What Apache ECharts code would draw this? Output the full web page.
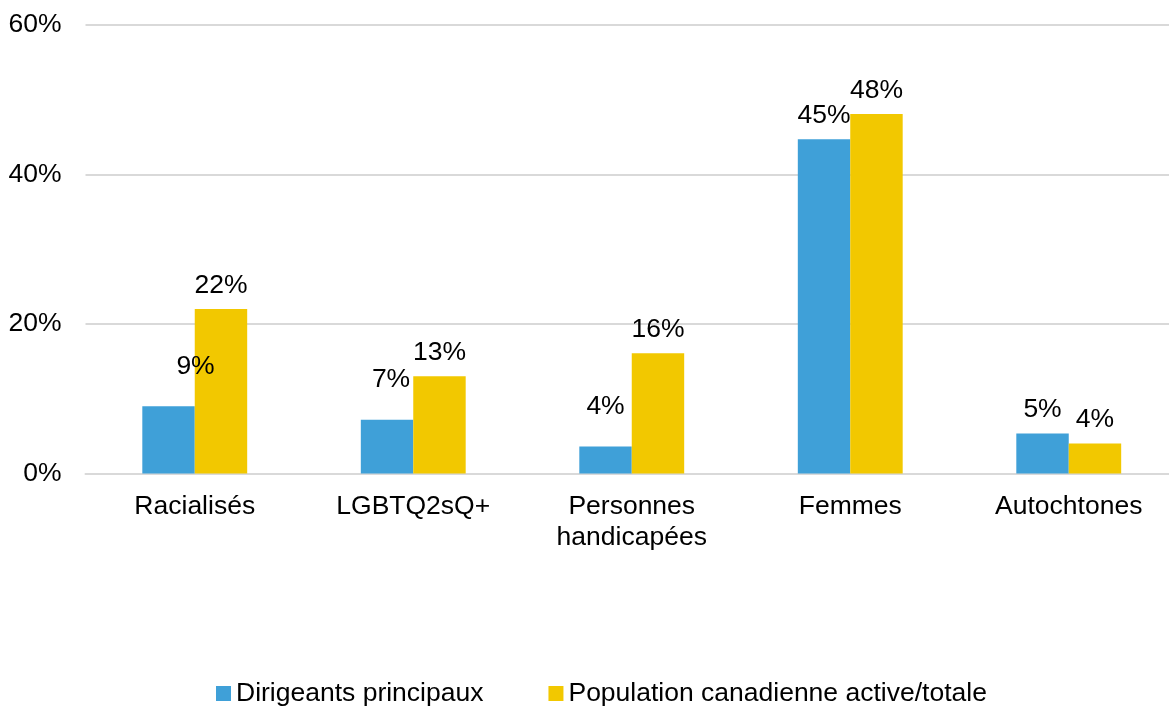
<!DOCTYPE html>
<html>
<head>
<meta charset="utf-8">
<script src="https://cdn.jsdelivr.net/npm/echarts@6/dist/echarts.min.js"></script>
<style>
html,body{margin:0;padding:0;background:#fff;}
#chart{width:1169px;height:706px;}
</style>
</head>
<body>
<div id="chart"></div>
<script>
const categories = ["Racialisés", "LGBTQ2sQ+", "Personnes\nhandicapées", "Femmes", "Autochtones"];
const seriesNames = ["Dirigeants principaux", "Population canadienne active/totale"];
const dirigeants = [9.0, 7.2, 3.6, 44.7, 5.35];
const population = [22.0, 13.0, 16.1, 48.1, 4.0];
const yTicks = [0, 20, 40, 60];

const FONT = "Liberation Sans, Arial, sans-serif";
const TXT = "#000000";
// Manual label nudges (Excel-style label placement) for the first series
const dirLabelNudge = [[27, -16], [4, -16], [0, -16], [0, 0], [0, 0]];

const labelBase = {
  show: true,
  position: "top",
  distance: 10,
  fontFamily: FONT,
  fontSize: 26.5,
  color: TXT,
  formatter: p => Math.round(p.value) + "%"
};

const chart = echarts.init(document.getElementById("chart"), null, {renderer: "canvas"});
chart.setOption({
  animation: false,
  backgroundColor: "#ffffff",
  grid: {left: 85.5, width: 1092.5, top: 25, height: 448.5, containLabel: false, outerBoundsMode: "none"},
  legend: {
    data: seriesNames,
    left: 216,
    top: 680,
    padding: 0,
    icon: "rect",
    itemWidth: 15,
    itemHeight: 15,
    itemGap: 65,
    textStyle: {fontFamily: FONT, fontSize: 26.5, color: TXT}
  },
  xAxis: {
    type: "category",
    data: categories,
    axisLine: {show: true, lineStyle: {color: "#d9d9d9", width: 2}},
    axisTick: {show: false},
    axisLabel: {fontFamily: FONT, fontSize: 26.5, color: TXT, margin: 18, lineHeight: 31, interval: 0}
  },
  yAxis: {
    type: "value",
    min: yTicks[0],
    max: yTicks[yTicks.length - 1],
    interval: yTicks[1] - yTicks[0],
    axisLine: {show: false},
    axisTick: {show: false},
    splitLine: {lineStyle: {color: "#d9d9d9", width: 2}},
    axisLabel: {fontFamily: FONT, fontSize: 26.5, color: TXT, margin: 24, padding: [4, 0, 0, 0], formatter: v => v + "%"}
  },
  series: [
    {
      name: seriesNames[0],
      type: "bar",
      barGap: "0%",
      barCategoryGap: "52%",
      itemStyle: {color: "#3fa0d8"},
      data: dirigeants.map((v, i) => ({
        value: v,
        label: {offset: dirLabelNudge[i]}
      })),
      label: labelBase
    },
    {
      name: seriesNames[1],
      type: "bar",
      barGap: "0%",
      barCategoryGap: "52%",
      itemStyle: {color: "#f2c800"},
      data: population,
      label: labelBase
    }
  ]
});
</script>
</body>
</html>
